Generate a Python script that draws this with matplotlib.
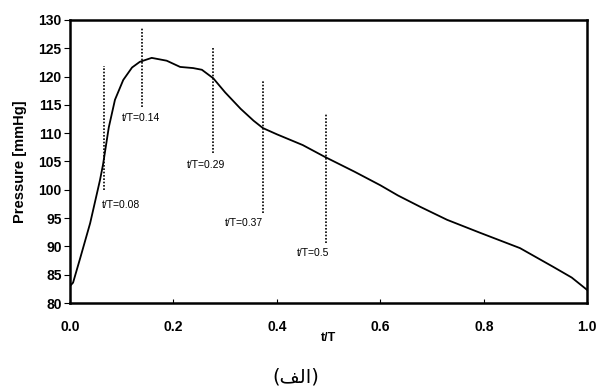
import matplotlib
matplotlib.use('Agg')
import matplotlib.pyplot as plt

# pressure curve
t_norm = [0.0, 0.006, 0.02, 0.039, 0.058, 0.064, 0.075, 0.087, 0.103, 0.12, 0.135,
          0.158, 0.187, 0.213, 0.238, 0.255, 0.277, 0.30, 0.33, 0.355, 0.373,
          0.40, 0.45, 0.493, 0.55, 0.60, 0.634, 0.677, 0.729, 0.793, 0.87,
          0.934, 0.97, 1.0]
pressure = [83.0, 83.6, 88.0, 94.1, 101.7, 104.5, 111.0, 115.9, 119.4, 121.6, 122.6,
            123.3, 122.8, 121.7, 121.5, 121.2, 119.7, 117.2, 114.3, 112.2, 110.9,
            109.8, 107.9, 105.8, 103.2, 100.8, 99.0, 97.0, 94.7, 92.4, 89.7,
            86.4, 84.5, 82.3]

# marker lines: x position, y range, label, label position
marker_x = [0.066, 0.139, 0.277, 0.373, 0.495]
marker_lo = [100.0, 114.6, 106.5, 95.9, 90.6]
marker_hi = [121.9, 128.6, 125.2, 119.2, 113.4]
marker_labels = ['t/T=0.08', 't/T=0.14', 't/T=0.29', 't/T=0.37', 't/T=0.5']
label_x = [0.062, 0.101, 0.226, 0.299, 0.438]
label_y = [97.3, 112.7, 104.4, 94.1, 88.8]

fig = plt.figure(figsize=(5.98, 3.91), dpi=100)
ax = fig.add_axes([0.117, 0.225, 0.865, 0.724])

ax.plot(t_norm, pressure, color='black', lw=1.3)
for x, lo, hi in zip(marker_x, marker_lo, marker_hi):
    ax.plot([x, x], [lo, hi], color='black', lw=1.2, ls=(0, (1, 1)))
for x, y, s in zip(label_x, label_y, marker_labels):
    ax.text(x, y, s, fontsize=7.5, family='Liberation Sans', va='center', ha='left')

ax.set_xlim(0, 1)
ax.set_ylim(80, 130)
ax.set_xticks([0.0, 0.2, 0.4, 0.6, 0.8, 1.0])
ax.set_xticklabels(['0.0', '0.2', '0.4', '0.6', '0.8', '1.0'])
ax.set_yticks(range(80, 131, 5))
for lab in ax.get_xticklabels():
    lab.set_fontweight('bold')
    lab.set_fontsize(10)
    lab.set_family('Liberation Sans')
for lab in ax.get_yticklabels():
    lab.set_fontweight('bold')
    lab.set_fontsize(10)
    lab.set_family('Liberation Sans')
ax.tick_params(axis='x', direction='in', length=3, pad=12)
ax.tick_params(axis='y', direction='out', length=4, pad=2)
for sp in ax.spines.values():
    sp.set_linewidth(1.8)

ax.set_xlabel('t/T', fontsize=9, fontweight='bold', family='Liberation Sans', labelpad=-1)
ax.set_ylabel('Pressure [mmHg]', fontsize=10.5, fontweight='bold', family='Liberation Sans', labelpad=8)

# caption (Arabic letters in presentation forms, visual order)
fig.text(0.495, 0.035, '(\ufed2\ufedf\ufe8d)', ha='center', va='center', fontsize=14, family='DejaVu Sans')

plt.savefig('out.png', dpi=100)
plt.close()
